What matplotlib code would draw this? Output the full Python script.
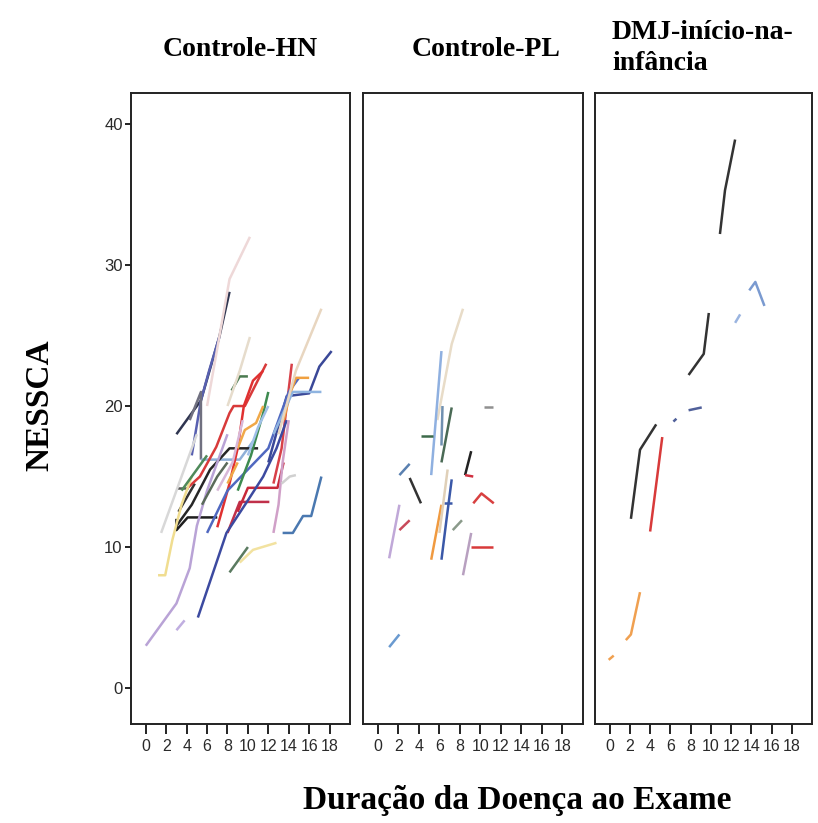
import matplotlib
matplotlib.use("Agg")
import matplotlib.pyplot as plt

# panel titles and axis labels
titles = ["Controle-HN", "Controle-PL", "DMJ-início-na-\ninfância"]
x_label = "Duração da Doença ao Exame"
y_label = "NESSCA"
x_ticks = [0, 2, 4, 6, 8, 10, 12, 14, 16, 18]
y_ticks = [0, 10, 20, 30, 40]

# each patient: (disease duration, NESSCA score)
hn_lines = [
    ([3, 5.4, 7.2, 8.2], [18, 20.4, 24.9, 28.1]),
    ([4.5, 5.4, 6.2, 7.2], [16.5, 20.4, 22.5, 24.9]),
    ([4.3, 5.4, 5.4], [19, 21, 16.2]),
    ([5.4, 9.2, 10.5], [16.2, 16.2, 17.5]),
    ([3, 3, 4.1, 7], [12, 11.2, 12.1, 12.1]),
    ([3, 4.5, 6.3, 8.2, 11], [11.5, 13, 15.5, 17, 17]),
    ([3.2, 4.8], [12.5, 14.5]),
    ([3.1, 4.1], [14.2, 14.2]),
    ([4.1, 5.3, 6.9, 8.2, 8.6, 9.7, 11.8], [14.2, 15, 17.1, 19.5, 20, 20, 23]),
    ([7, 8.2, 9, 9.6, 10.5, 11.5], [11.4, 14.5, 17, 20, 21.8, 22.5]),
    ([12.5, 13.3, 14.3], [14.5, 17, 23]),
    ([8, 9.2, 12.1], [11, 13.2, 13.2]),
    ([9, 10, 12.9, 13.5], [12.5, 14.2, 14.2, 16]),
    ([5.1, 7.9, 9.9, 11.5, 12.8, 13.8], [5, 11, 13.2, 15, 17, 19]),
    ([12, 13.8, 16, 17, 18.2], [16, 20.7, 20.9, 22.8, 23.9]),
    ([6, 8, 10, 12, 13, 14, 15], [11, 14, 15.5, 17, 19, 21, 22]),
    ([0, 3, 4.3, 5, 6, 7, 8], [3, 6, 8.5, 11.5, 14, 16, 18]),
    ([3, 3.8], [4.1, 4.8]),
    ([12.5, 13, 13.4, 14], [11, 13, 16, 19]),
    ([1.2, 1.9, 2.6, 3.5, 4.5], [8, 8, 10.5, 13, 15]),
    ([9.2, 10.5, 12.8], [8.9, 9.8, 10.3]),
    ([8.2, 10], [8.2, 10]),
    ([8.4, 9.2, 10], [21.1, 22.1, 22.1]),
    ([9, 10.3, 11.5, 12], [14, 16.5, 19.5, 21]),
    ([3.5, 5, 6], [14, 15.5, 16.5]),
    ([13.5, 14.2, 14.7, 16], [19, 21, 22, 22]),
    ([9, 9.7, 10.8, 11.5], [17, 18.3, 18.8, 20]),
    ([12.5, 14.4, 17.2], [18, 21, 21]),
    ([13.4, 14.4, 15.4, 16.2, 17.2], [11, 11, 12.2, 12.2, 15]),
    ([6, 8.2, 10.2], [20, 29, 32]),
    ([13, 14.7, 17.2], [18, 22.5, 26.9]),
    ([8, 9.2, 10.2], [20, 22.5, 24.9]),
    ([1.5, 2.5, 4, 5], [11, 13, 16, 18]),
    ([13.3, 14.1, 14.7], [14.5, 15, 15.1]),
    ([5.5, 7, 8], [13, 15, 16]),
    ([10, 11, 12], [16.5, 18.5, 20]),
    ([7, 8.5, 9.5], [14, 16, 19]),
    ([8, 9], [14.5, 16]),
]
hn_colors = [
    "#2f3550", "#5860b0", "#707080", "#8fb0d8", "#1e1e1e", "#262626",
    "#333333", "#555555", "#d83a3a", "#e03030", "#d84048", "#c0304a",
    "#c8283a", "#3c4aa0", "#3a4898", "#5068c0", "#b9a3d6", "#c0aee0",
    "#d0a0c8", "#f0dd90", "#f2e2a0", "#5a7a60", "#4a7a50", "#3d8a50",
    "#4f8a5a", "#f0a040", "#f0a848", "#8fb4e0", "#4a78b0", "#eed8d8",
    "#e8d6c0", "#e6dccc", "#d8d8d8", "#d0d0d0", "#5a6a5a", "#a0c0e8",
    "#d8b8d8", "#f0a848",
]

pl_lines = [
    ([5.8, 7.2, 8.3], [19, 24.4, 26.9]),
    ([5.2, 6.2], [15.1, 23.9]),
    ([6.2, 7.2], [16, 19.9]),
    ([6.2, 6.3], [17.2, 20]),
    ([4.2, 5.4], [17.9, 17.9]),
    ([10.3, 11.2], [19.9, 19.9]),
    ([9.1, 8.5], [16.8, 15.1]),
    ([8.5, 9.3], [15.1, 15]),
    ([2.1, 3.1], [15.1, 15.9]),
    ([3.1, 4.2], [14.9, 13.1]),
    ([6.2, 6.7, 7.2], [9.1, 12, 14.8]),
    ([6.4, 7.2], [13.1, 13.1]),
    ([5.2, 6.2], [9.1, 13]),
    ([6, 6.8], [11, 15.5]),
    ([7.3, 8.2], [11.2, 11.9]),
    ([9.3, 10.1, 11.3], [13.1, 13.8, 13.1]),
    ([2.1, 3.1], [11.2, 11.9]),
    ([1.1, 2.1], [9.2, 13]),
    ([8.3, 9.1], [8, 11]),
    ([9.1, 11.2], [10, 10]),
    ([1.1, 2.1], [2.9, 3.8]),
]
pl_colors = [
    "#e8dcc8", "#8fb0e0", "#4a6a55", "#7090b0", "#3d6a4a", "#909090",
    "#222222", "#d03040", "#5a80b0", "#333333", "#3a58a8", "#3a58a8",
    "#f09a40", "#e0d0b8", "#8a9a8a", "#d84040", "#c84a5a", "#c0a8d8",
    "#b8a0c0", "#d83a3a", "#6a9ad0",
]

dmj_lines = [
    ([10.9, 11.4, 12.4], [32.2, 35.3, 38.9]),
    ([13.8, 14.4, 15.3], [28.2, 28.8, 27.1]),
    ([12.4, 12.9], [25.9, 26.5]),
    ([7.8, 9.3, 9.8], [22.2, 23.7, 26.6]),
    ([7.8, 9.1], [19.7, 19.9]),
    ([6.3, 6.6], [18.9, 19.1]),
    ([2.1, 3, 4.6], [12, 16.9, 18.7]),
    ([4, 5.2], [11.1, 17.8]),
    ([-0.1, 0.4], [2, 2.3]),
    ([1.6, 2.1, 3], [3.4, 3.8, 6.8]),
]
dmj_colors = [
    "#333333", "#7a9ad0", "#9ab4e0", "#333333", "#50609a", "#50609a",
    "#333333", "#d83a3a", "#f0a050", "#f0a050",
]

panels = [(hn_lines, hn_colors), (pl_lines, pl_colors), (dmj_lines, dmj_colors)]

W, H = 818, 823
fig = plt.figure(figsize=(W / 100, H / 100), dpi=100)
fig.patch.set_facecolor("white")

# axes boxes in pixels: left, right
boxes = [(131, 350), (363, 583), (595, 812)]
top_px, bottom_px = 93, 724

serif = "Liberation Serif"
sans = "Liberation Sans"

for i, ((lines, colors), (l, r)) in enumerate(zip(panels, boxes)):
    ax = fig.add_axes([l / W, 1 - bottom_px / H, (r - l) / W, (bottom_px - top_px) / H])
    for (xs, ys), c in zip(lines, colors):
        ax.plot(xs, ys, color=c, lw=1.8, solid_capstyle="butt")
    ax.set_xlim(-1.45, 20.0)
    ax.set_ylim(-2.55, 42.2)
    for sp in ax.spines.values():
        sp.set_linewidth(1.4)
        sp.set_color("#222222")
    ax.set_xticks(x_ticks)
    ax.set_xticklabels([str(t) for t in x_ticks], fontsize=11.5, family=sans, color="#2a2a2a")
    ax.tick_params(axis="x", direction="out", length=7, width=1.4, pad=4, color="#222222")
    if i == 0:
        ax.set_yticks(y_ticks)
        ax.set_yticklabels([str(t) for t in y_ticks], fontsize=12, family=sans, color="#2a2a2a")
        ax.tick_params(axis="y", direction="out", length=4, width=1.4, pad=2, color="#222222")
    else:
        ax.set_yticks([])

fig.text(240 / W, 1 - 50 / H, titles[0], ha="center", va="center",
         fontsize=20, fontweight="bold", family=serif)
fig.text(486 / W, 1 - 50 / H, titles[1], ha="center", va="center",
         fontsize=20, fontweight="bold", family=serif)
fig.text(612 / W, 1 - 48 / H, titles[2], ha="left", va="center",
         fontsize=20, fontweight="bold", family=serif, linespacing=1.35)

fig.text(40 / W, 1 - 405 / H, y_label, rotation=90, ha="center", va="center",
         fontsize=24, fontweight="bold", family=serif)
fig.text(517 / W, 1 - 800 / H, x_label, ha="center", va="center",
         fontsize=24, fontweight="bold", family=serif)

fig.savefig("out.png", dpi=100, facecolor="white")
